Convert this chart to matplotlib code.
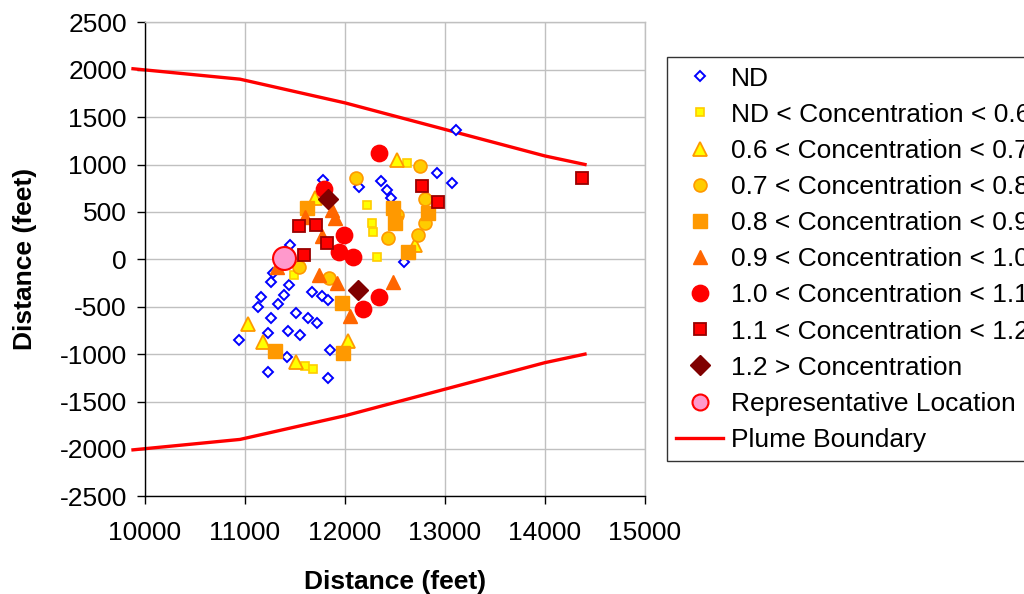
import matplotlib
matplotlib.use("Agg")
import matplotlib.pyplot as plt

plt.rcParams['font.family'] = ['Liberation Sans', 'DejaVu Sans']
plt.rcParams['axes.unicode_minus'] = False

# ---------------- data ----------------
nd_x = [11783, 11450, 11283, 11257, 11443, 11667, 11767, 11833, 11160, 11127, 11393, 11327,
        11260, 11510, 11627, 11717, 11233, 11427, 11550, 10940, 11850, 11417, 11233, 11827,
        12143, 12357, 12423, 12460, 12923, 13067, 13110, 12593]
nd_y = [837, 151, -148, -236, -271, -342, -387, -429, -401, -500, -377, -475,
        -622, -570, -622, -669, -774, -753, -799, -851, -957, -1034, -1186, -1255,
        766, 829, 731, 644, 907, 802, 1364, -25]

c06_x = [11490, 12217, 12267, 12283, 12317, 12617, 11600, 11677]
c06_y = [-166, 573, 380, 291, 27, 1019, -1126, -1160]

c07_x = [11700, 12523, 12700, 12033, 11033, 11183, 11510]
c07_y = [644, 1048, 151, -859, -683, -869, -1080]

c08_x = [12110, 12750, 12800, 12517, 12800, 12733, 12433, 11543, 11843]
c08_y = [855, 984, 633, 467, 380, 256, 222, -78, -200]

c09_x = [11623, 12483, 12500, 12833, 12633, 11967, 11977, 11300]
c09_y = [544, 538, 380, 485, 80, -464, -992, -964]

c10_x = [11867, 11900, 11600, 11767, 11317, 11743, 11923, 12483, 12050]
c10_y = [520, 433, 449, 246, -78, -166, -253, -236, -598]

c11_x = [11790, 11993, 11943, 12077, 12343, 12343, 12177]
c11_y = [739, 256, 80, 27, 1125, -395, -528]

c12_x = [11540, 11707, 11823, 11590, 12767, 12933, 14367]
c12_y = [351, 362, 169, 45, 773, 608, 861]

cgt_x = [11833, 12133]
cgt_y = [633, -324]

rep_x = [11393]
rep_y = [11]

plume_x = [9880, 10950, 12000, 13000, 14000, 14400]
plume_upper = [2010, 1900, 1650, 1370, 1090, 1000]
plume_lower = [-2010, -1900, -1650, -1370, -1090, -1000]

labels = ["ND", "ND < Concentration < 0.6", "0.6 < Concentration < 0.7",
          "0.7 < Concentration < 0.8", "0.8 < Concentration < 0.9",
          "0.9 < Concentration < 1.0", "1.0 < Concentration < 1.1",
          "1.1 < Concentration < 1.2", "1.2 > Concentration",
          "Representative Location", "Plume Boundary"]

# ---------------- figure ----------------
fig = plt.figure(figsize=(10.24, 5.94), dpi=100)
ax = fig.add_axes([145/1024, 1-496.3/594, 500/1024, 474/594])

ax.set_xlim(10000, 15000)
ax.set_ylim(-2500, 2500)
ax.set_xticks(range(10000, 15001, 1000))
ax.set_yticks(range(-2500, 2501, 500))
ax.grid(True, color='#c0c0c0', linewidth=1.0)
ax.set_axisbelow(True)

for s in ['top', 'right']:
    ax.spines[s].set_color('#c0c0c0')
    ax.spines[s].set_linewidth(1.0)
for s in ['left', 'bottom']:
    ax.spines[s].set_color('black')
    ax.spines[s].set_linewidth(1.0)

ax.tick_params(axis='both', direction='out', length=6, width=1, labelsize=19, colors='black')
ax.tick_params(axis='x', pad=12)
ax.tick_params(axis='y', pad=7)

# plume boundary (drawn beneath markers)
line_u, = ax.plot(plume_x, plume_upper, color='#ff0000', lw=2.4, zorder=2, clip_on=False)
ax.plot(plume_x, plume_lower, color='#ff0000', lw=2.4, zorder=2, clip_on=False)

h = []
h.append(ax.plot(nd_x, nd_y, ls='none', marker='D', ms=5.2, mfc='white', mec='#0000ff', mew=1.4, zorder=3)[0])
h.append(ax.plot(c06_x, c06_y, ls='none', marker='s', ms=6.3, mfc='#ffff00', mec='#ffcc00', mew=1.2, zorder=4)[0])
h.append(ax.plot(c07_x, c07_y, ls='none', marker='^', ms=10.0, mfc='#ffff00', mec='#ff9900', mew=1.3, zorder=5)[0])
h.append(ax.plot(c08_x, c08_y, ls='none', marker='o', ms=9.3, mfc='#ffcc00', mec='#ff9900', mew=1.2, zorder=6)[0])
h.append(ax.plot(c09_x, c09_y, ls='none', marker='s', ms=9.6, mfc='#ff9900', mec='#ff9900', mew=1.0, zorder=7)[0])
h.append(ax.plot(c10_x, c10_y, ls='none', marker='^', ms=10.5, mfc='#ff6600', mec='#ff6600', mew=1.0, zorder=8)[0])
h.append(ax.plot(c11_x, c11_y, ls='none', marker='o', ms=11.8, mfc='#ff0000', mec='#ff0000', mew=1.0, zorder=9)[0])
h.append(ax.plot(c12_x, c12_y, ls='none', marker='s', ms=9.0, mfc='#ff0000', mec='#990000', mew=1.3, zorder=10)[0])
h.append(ax.plot(cgt_x, cgt_y, ls='none', marker='D', ms=9.8, mfc='#800000', mec='#800000', mew=1.0, zorder=11)[0])
h.append(ax.plot(rep_x, rep_y, ls='none', marker='o', ms=16.5, mfc='#ff99cc', mec='#ff0000', mew=1.5, zorder=12)[0])
h.append(line_u)

fig.text(25/1024, 1-259/594, "Distance (feet)", rotation=90, ha='center', va='center',
         fontsize=19, fontweight='bold')
fig.text(395/1024, 1-582/594, "Distance (feet)", ha='center', va='center',
         fontsize=19, fontweight='bold')

leg = fig.legend(h, labels, loc='upper left', bbox_to_anchor=(666.7/1024, 1-57.3/594),
                 bbox_transform=fig.transFigure, borderaxespad=0, fontsize=19,
                 frameon=True, fancybox=False, edgecolor='#333333', framealpha=1,
                 handlelength=1.8, handletextpad=0.3, labelspacing=0.46, borderpad=0.35,
                 numpoints=1)
leg.get_frame().set_linewidth(1.0)
lh = leg.legend_handles
lh[9].set_markersize(11.5)

fig.savefig("out.png", dpi=100)
